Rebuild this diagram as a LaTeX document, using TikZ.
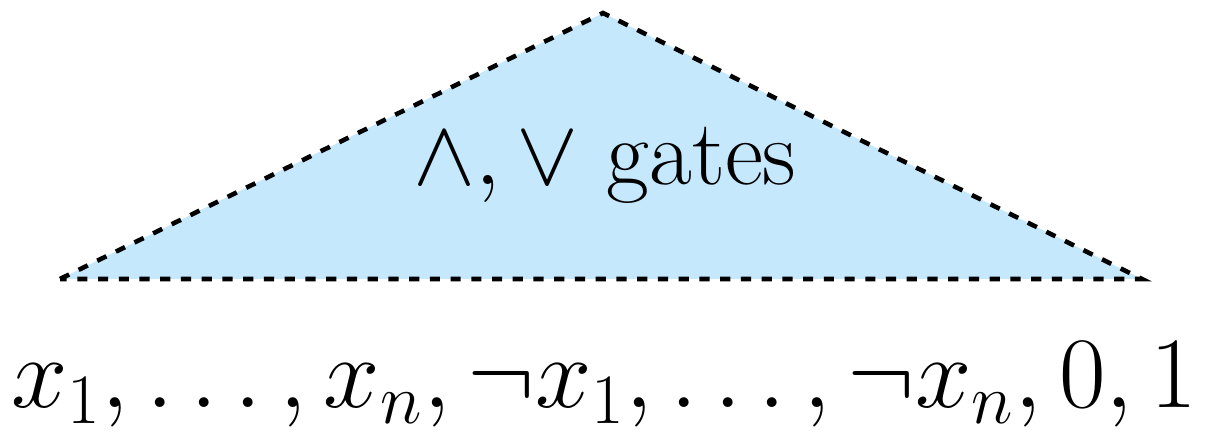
\RequirePackage{fix-cm}
\documentclass[tikz,border=0pt]{standalone}
\usepackage{amsmath}
\usepackage{fontspec}
\usetikzlibrary{positioning, calc}
\definecolor{gatefill}{HTML}{C5E8FC}

\begin{document}
\begin{tikzpicture}[
  font=\fontsize{26.5}{32}\selectfont,
  tri/.style={draw=black, fill=gatefill, line width=1.3pt,
    dash pattern=on 2.9pt off 3.0pt, line join=miter},
  lbl/.style={anchor=base, inner sep=0pt}
]
\useasboundingbox (0,0) rectangle (12.08,4.33);
\coordinate (top) at (6.03,4.20);
\coordinate (bl) at (0.60,1.54);
\coordinate (br) at (11.42,1.54);
\draw[tri] (bl) -- (top) -- (br) -- cycle;
\node[lbl] (gates) at (6.05,2.48) {$\wedge,\vee$ gates};
\node[lbl, font=\fontsize{28.8}{34}\selectfont] (inputs) at (6.04,0.25)
  {$x_1,\ldots,x_n,\neg x_1,\ldots,\neg x_n,0,1$};
\end{tikzpicture}
\end{document}
